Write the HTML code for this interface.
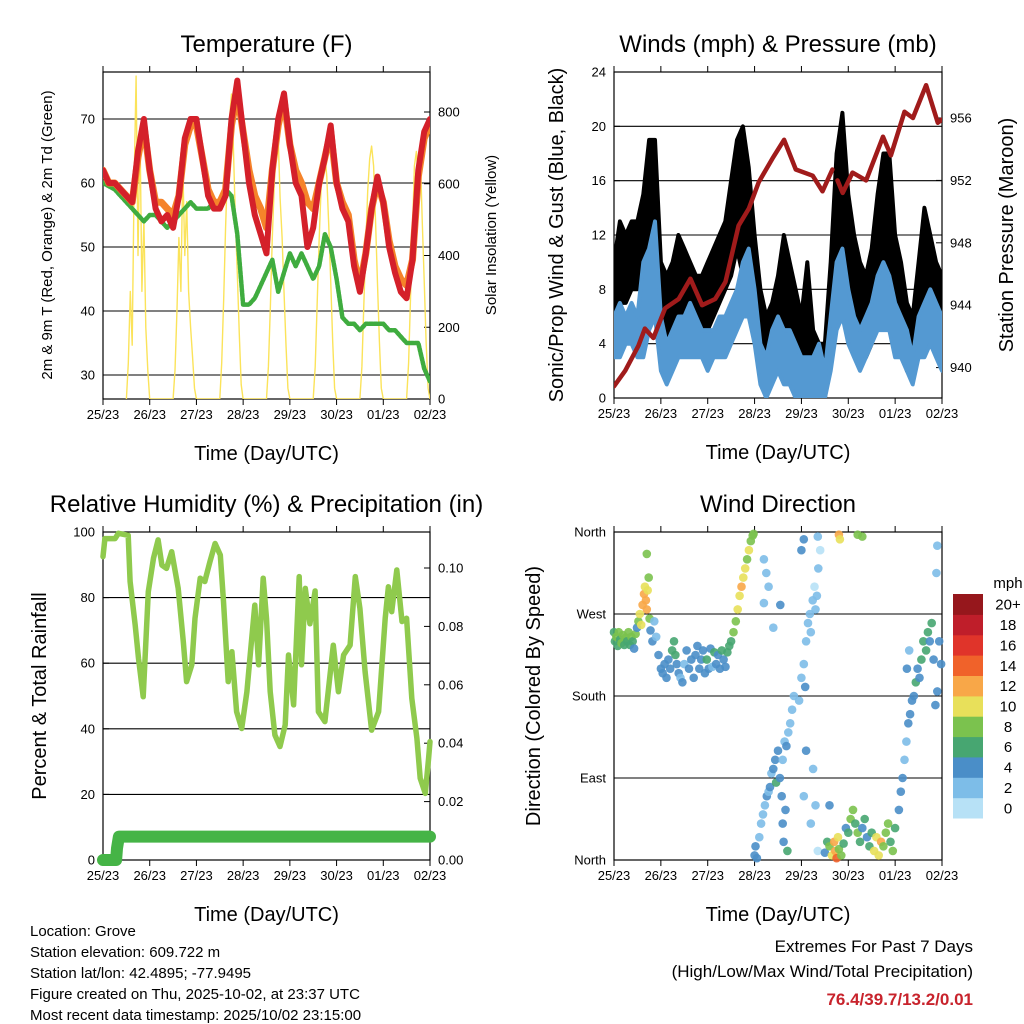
<!DOCTYPE html>
<html><head><meta charset="utf-8"><style>
html,body{margin:0;padding:0;background:#fff;}
svg{display:block;font-family:"Liberation Sans",sans-serif;}
</style></head><body>
<svg id="c" width="1024" height="1024" viewBox="0 0 1024 1024" xmlns="http://www.w3.org/2000/svg">
<rect width="1024" height="1024" fill="#fff"/>
<g id="p1"></g>
<g id="p2"></g>
<g id="p3"></g>
<g id="p4"></g>
<g id="cb"></g>
<g font-size="15" fill="#000">
<text x="30" y="936">Location: Grove</text>
<text x="30" y="957">Station elevation: 609.722 m</text>
<text x="30" y="978">Station lat/lon: 42.4895; -77.9495</text>
<text x="30" y="999">Figure created on Thu, 2025-10-02, at 23:37 UTC</text>
<text x="30" y="1020">Most recent data timestamp: 2025/10/02 23:15:00</text>
</g>
<g text-anchor="end">
<text x="973" y="952" font-size="17">Extremes For Past 7 Days</text>
<text x="973" y="977" font-size="17">(High/Low/Max Wind/Total Precipitation)</text>
<text x="973" y="1005" font-size="17" font-weight="bold" fill="#c8232c">76.4/39.7/13.2/0.01</text>
</g>
</svg>
<script>
const dayLabels=["25/23","26/23","27/23","28/23","29/23","30/23","01/23","02/23"];
const tRed=[62,60,60,59,58,57,65,70,62,56,54,55,53,58,67,70,70,64,58,56,56,58,70,76,68,60,55,52,49,62,70,74,66,60,58,50,53,60,64,69,60,56,54,47,43,49,56,61,57,50,46,43,42,48,62,68,70];
const tOrange=[62,60,60,59,58,57,64,69,62,57,57,56,55,58,66,69,69,64,59,57,57,59,69,74,68,62,58,56,53,62,69,73,66,62,60,57,56,60,64,68,60,57,55,48,44,49,56,60,57,51,47,45,44,48,61,67,69];
const tDew=[60,59.5,59,58,57,56,55,54,55,55,54,53,54,55,56,57,56,56,56,57,57,59,58,52,41,41,42,44,46,48,43,46,49,47,49,47,45,47,52,50,45,39,38,38,37,38,38,38,38,37,37,36,35,35,35,31,29];
const solarDays=[
[0,100,300,150,600,900,400,750,300,500,200,80,0],
[0,80,250,450,300,650,400,550,300,200,120,30,0],
[0,100,280,480,650,780,850,700,500,350,180,40,0],
[0,90,260,450,600,700,730,560,450,300,150,30,0],
[0,90,260,440,580,660,680,620,480,330,160,30,0],
[0,90,260,430,580,670,705,650,500,330,160,30,0],
[0,100,280,470,650,690,600,680,500,330,160,30,0]];
const windLo=[3,3,4,4,3,3,5,6,2,1,2,3,3,3,3,3,2,3,3,3,4,5,6,6,4,1,0,1,2,1,1,0,0,0,0,0,0,2,5,6,4,3,2,3,4,5,5,5,3,3,2,1,3,3,4,3,2];
const windHi=[6,7,6,7,6,10,11,13,6,4,5,6,6,7,6,5,5,5,6,6,7,8,10,11,8,4,3,5,6,5,5,4,3,3,3,4,2,6,10,11,8,6,5,6,7,9,10,9,7,6,5,3,6,7,8,7,6];
const gustLo=[4,7,7,8,8,9,11,10,3,3,4,5,6,5,4,5,5,6,7,8,9,11,9,7,5,2,1,2,3,4,3,2,1,2,1,0,0,3,8,10,7,5,4,3,4,7,9,9,6,4,2,2,4,6,5,4,3];
const gustHi=[10,13,12,13,13,15,19,19,10,9,10,12,11,10,9,9,10,11,12,13,16,19,20,17,12,8,6,7,9,12,10,8,6,10,5,4,4,10,18,21,15,12,10,9,11,15,18,18,12,10,7,6,10,14,12,10,9];
const presDays=[0,0.24,0.52,0.66,0.84,1.09,1.38,1.63,1.88,2.16,2.38,2.66,2.88,3.09,3.38,3.63,3.88,4.24,4.45,4.66];
const presVals=[938.8,939.8,941.4,942.5,941.9,943.8,944.4,945.7,944,944.4,945.5,949.1,950.2,951.9,953.4,954.6,952.7,952.3,951.3,952.7];
const pres2Days=[4.77,4.88,5.09,5.38,5.74,5.91,6.2,6.38,6.66,6.91,7];
const pres2Vals=[952,951.2,952.5,952,954.8,953.6,956.4,956,958.1,955.7,955.9];
const rhDays=[0,0.04,0.26,0.33,0.54,0.58,0.69,0.76,0.86,0.97,1.08,1.18,1.26,1.36,1.47,1.61,1.72,1.79,1.90,1.97,2.08,2.18,2.29,2.40,2.51,2.58,2.68,2.76,2.86,2.97,3.08,3.15,3.25,3.33,3.43,3.50,3.58,3.68,3.79,3.90,3.97,4.08,4.20,4.25,4.33,4.43,4.54,4.61,4.75,4.82,4.93,5.04,5.15,5.29,5.40,5.50,5.61,5.75,5.90,6.04,6.11,6.18,6.29,6.40,6.50,6.61,6.72,6.79,6.90,6.97,7];
const rhVals=[92.5,98,98,99.6,99,84.9,71.6,61.5,49.8,81.8,92,97.6,89.9,88.9,94,82.8,66.6,54.4,59.5,73.7,85.9,84.9,91,96.5,93,78.8,54.4,63.5,45.2,40.1,51.3,62.5,77.7,59.5,85.9,73.7,51.3,38.1,34.6,41.2,62.5,47.3,86.4,59.5,82.8,72,82,45.2,42.2,51.3,65.5,51.3,62.5,65.5,86.4,76.7,57.4,39.6,45.2,73.7,83.3,75.7,88.4,72.7,73.7,49.3,37.1,24.9,20.3,31,36.1];
const precipDays=[0,0.28,0.30,0.34,7];
const precipVals=[0,0,0.004,0.008,0.008];
const dirDays=[0,0.02,0.05,0.08,0.10,0.13,0.16,0.19,0.22,0.25,0.28,0.31,0.34,0.37,0.40,0.43,0.46,0.49,
0.52,0.55,0.58,0.61,0.64,0.66,0.68,0.70,0.72,0.74,0.76,0.70,0.78,0.82,
0.86,0.90,0.95,1.00,1.04,1.08,1.12,1.16,1.20,1.24,1.28,1.31,1.34,1.38,1.42,1.46,1.50,1.55,1.60,1.65,1.70,1.74,1.78,1.82,1.86,1.90,1.94,1.98,2.02,2.06,2.10,2.14,2.18,2.22,2.26,2.30,2.34,2.38,2.42,2.46,
2.50,2.55,2.60,2.64,2.68,2.72,2.76,2.80,2.84,2.88,2.92,2.96,2.98,
3.2,3.25,3.3,3.55,3.2,3.4,
3.0,3.02,3.05,3.1,3.14,3.18,3.22,3.26,3.3,3.33,3.36,3.4,3.44,3.46,3.5,3.54,3.58,3.6,3.64,3.68,3.72,3.76,3.8,3.84,3.6,3.62,3.66,3.7,
3.95,4.0,4.05,4.08,4.1,4.14,4.18,4.2,4.24,4.28,4.3,4.33,4.36,4.4,4.1,4.05,4.2,4.25,4.3,4.35,4.0,4.05,4.35,
4.5,4.55,4.6,4.65,4.7,4.72,4.75,4.78,4.8,4.85,4.9,4.8,4.82,4.95,4.6,
5.0,5.05,5.1,5.15,5.2,5.25,5.3,5.35,5.4,5.45,5.5,5.2,5.3,
5.55,5.6,5.65,5.7,5.75,5.8,5.85,5.9,5.95,6.0,
6.08,6.12,6.16,6.2,6.24,6.28,6.32,6.36,6.4,6.44,6.48,6.52,6.56,6.6,6.3,6.25,
6.66,6.7,6.74,6.78,6.82,6.86,6.9,6.94,6.98,6.9,6.88];
const dirDeg=[250,240,245,235,250,242,238,247,236,244,240,250,236,245,240,232,248,255,
262,270,258,280,292,300,285,275,296,310,265,336,252,240,
262,245,225,210,205,215,200,220,210,230,240,225,215,205,200,195,215,230,210,220,200,225,235,210,220,230,205,220,210,232,212,228,215,225,210,230,220,212,228,235,
240,250,262,275,290,300,310,320,330,340,350,356,358,
330,315,300,280,282,255,
5,15,2,25,40,50,60,70,75,80,95,100,110,85,120,90,70,110,130,125,140,150,165,180,40,20,55,10,
175,200,215,190,240,260,270,250,285,300,275,290,320,340,120,70,40,100,60,10,340,352,355,
8,20,15,5,20,10,2,25,12,5,18,357,352,35,60,
30,45,55,40,30,20,35,45,25,15,30,357,355,
10,25,5,20,15,30,40,20,10,35,
55,75,90,110,130,150,160,175,180,195,210,200,220,240,230,210,
230,250,240,260,220,170,185,240,215,345,315];
const dirSpd=[5,6,7,6,7,6,7,8,6,7,5,7,6,8,6,4,7,4,
8,9,10,11,12,10,12,11,9,8,7,7,4,3,
2,2,3,4,4,3,4,4,3,5,6,6,4,3,2,3,2,4,4,3,4,4,4,3,4,4,4,5,4,4,2,6,4,4,3,5,4,3,5,6,
6,7,8,9,10,11,9,10,8,9,8,7,7,
2,2,2,4,1,1,
4,3,4,2,1,2,2,3,2,4,2,4,4,5,4,4,3,2,2,4,2,2,2,2,4,4,4,6,
1,1,2,4,2,1,2,1,1,0,2,1,1,0,4,2,2,1,2,0,4,3,2,
4,5,8,10,11,12,13,10,8,7,6,12,10,4,4,
6,7,7,6,7,5,4,6,4,5,6,7,8,
9,10,9,11,8,7,8,6,7,6,
4,4,3,2,2,4,3,4,4,5,4,3,6,5,2,3,
6,5,4,5,4,4,3,4,4,2,1];
const cbLabels=["0","2","4","6","8","10","12","14","16","18","20+"];
const cbColors=["#b7e1f6","#7dbde8","#4a8ec8","#47a671","#7bc24e","#e8e05a","#f8a748","#f0622a","#e0342a","#bf1e2a","#96171c"];

const NS="http://www.w3.org/2000/svg";
function mk(parent,tag,attrs){const e=document.createElementNS(NS,tag);for(const k in attrs)e.setAttribute(k,attrs[k]);parent.appendChild(e);return e;}
function txt(parent,x,y,s,attrs){const e=mk(parent,'text',Object.assign({x:x,y:y},attrs||{}));e.textContent=s;return e;}

function panel(g,L,R,T,B,title,xTitle){
  const f=mk(g,'rect',{x:L,y:T,width:R-L,height:B-T,fill:'none',stroke:'#000','stroke-width':1.2});
  
  
  const tt=txt(g,(L+R)/2,T-20,title,{'font-size':24,'text-anchor':'middle'});
  
  
  const xt=txt(g,(L+R)/2,B+61,xTitle,{'font-size':20,'text-anchor':'middle'});
  
  
  const dx=(R-L)/7;
  dayLabels.forEach((s,i)=>{
    const x=L+i*dx;
    mk(g,'line',{x1:x,x2:x,y1:B,y2:B+6,stroke:'#000','stroke-width':1});
    mk(g,'line',{x1:x,x2:x,y1:T,y2:T-6,stroke:'#000','stroke-width':1});
    const t=txt(g,x,B+20,s,{'font-size':13,'text-anchor':'middle'});
    
    
  });
  return d=>L+d*dx;
}
function yaxis(g,L,R,T,B,fy,ticks,fmt,side,grid){
  ticks.forEach(v=>{
    const y=fy(v);
    if(grid) mk(g,'line',{x1:L,x2:R,y1:y,y2:y,stroke:'#000','stroke-width':1.1});
    if(side==='l'){mk(g,'line',{x1:L,x2:L+6,y1:y,y2:y,stroke:'#000'});
      const t=txt(g,L-8,y+4.5,fmt(v),{'font-size':13,'text-anchor':'end'});
      
      
    } else {mk(g,'line',{x1:R-6,x2:R,y1:y,y2:y,stroke:'#000'});
      const t=txt(g,R+8,y+4.5,fmt(v),{'font-size':13,'text-anchor':'start'});
      
      
    }
  });
}
function vlabel(g,x,y,s,size,name){const t=txt(g,x,y,s,{'font-size':size,'text-anchor':'middle',transform:'rotate(-90 '+x+' '+y+')'});
  
  }
function poly(g,pts,attrs,name){const p=mk(g,'polyline',Object.assign({points:pts.map(p=>p[0].toFixed(1)+','+p[1].toFixed(1)).join(' '),fill:'none','stroke-linejoin':'round','stroke-linecap':'round'},attrs));
  
  return p;}

(function(){
  const g=document.getElementById('p1');const L=103,R=430,T=72,B=399;
  const fx=panel(g,L,R,T,B,'Temperature (F)','Time (Day/UTC)');
  const fy=v=>183-(v-60)*6.4;
  const fs=v=>399-v*0.35875;
  yaxis(g,L,R,T,B,fy,[30,40,50,60,70],v=>v,'l',true);
  yaxis(g,L,R,T,B,fs,[0,200,400,600,800],v=>v,'r',false);
  const clip=mk(g,'clipPath',{id:'cl1'});mk(clip,'rect',{x:L,y:T,width:R-L,height:B-T});
  const gg=mk(g,'g',{'clip-path':'url(#cl1)'});
  const sp=[];solarDays.forEach((arr,d)=>arr.forEach((v,h)=>sp.push([fx(d+(12+h)/24),fs(v)])));
  poly(gg,sp,{stroke:'#fbe35a','stroke-width':1.4},'solar-line');
  poly(gg,tDew.map((v,i)=>[fx(i/8),fy(v)]),{stroke:'#3fac3f','stroke-width':4.5,'stroke-dasharray':'3 1.5'},'dewpoint-line');
  poly(gg,tOrange.map((v,i)=>[fx(i/8),fy(v)]),{stroke:'#f5832a','stroke-width':7},'temp-9m-line');
  poly(gg,tRed.map((v,i)=>[fx(i/8),fy(v)]),{stroke:'#d4202a','stroke-width':6},'temp-2m-line');
  vlabel(g,52,235,'2m & 9m T (Red, Orange) & 2m Td (Green)',15,'y-axis-title');
  vlabel(g,496,235,'Solar Insolation (Yellow)',15,'y2-axis-title');
})();
(function(){
  const g=document.getElementById('p2');const L=614,R=942,T=72,B=398;
  const fx=panel(g,L,R,T,B,'Winds (mph) & Pressure (mb)','Time (Day/UTC)');
  const fy=v=>398-v*(326/24);
  const fp=v=>118+(956-v)*15.6;
  yaxis(g,L,R,T,B,fy,[0,4,8,12,16,20,24],v=>v,'l',true);
  yaxis(g,L,R,T,B,fp,[940,944,948,952,956],v=>v,'r',false);
  const clip=mk(g,'clipPath',{id:'cl2'});mk(clip,'rect',{x:L,y:T,width:R-L,height:B-T});
  const gg=mk(g,'g',{'clip-path':'url(#cl2)'});
  function band(lo,hi,col,name){
    const pts=hi.map((v,i)=>[fx(i/8),fy(v)]).concat(lo.map((v,i)=>[fx(i/8),fy(v)]).reverse());
    const p=mk(gg,'polygon',{points:pts.map(p=>p[0].toFixed(1)+','+p[1].toFixed(1)).join(' '),fill:col,stroke:col,'stroke-width':4,'stroke-linejoin':'round'});
    
    
  }
  band(gustLo,gustHi,'#000','gust-band');
  band(windLo,windHi,'#5499d2','wind-band');
  poly(gg,presDays.map((d,i)=>[fx(d),fp(presVals[i])]),{stroke:'#a01b1b','stroke-width':4.5},'pressure-line');
  poly(gg,pres2Days.map((d,i)=>[fx(d),fp(pres2Vals[i])]),{stroke:'#a01b1b','stroke-width':4.5},'pressure-line-2');
  vlabel(g,563,235,'Sonic/Prop Wind & Gust (Blue, Black)',20,'y-axis-title');
  vlabel(g,1013,235,'Station Pressure (Maroon)',20,'y2-axis-title');
})();
(function(){
  const g=document.getElementById('p3');const L=103,R=430,T=532,B=860;
  const fx=panel(g,L,R,T,B,'Relative Humidity (%) & Precipitation (in)','Time (Day/UTC)');
  const fy=v=>860-v*3.28;
  const fp=v=>860-v*2920;
  yaxis(g,L,R,T,B,fy,[0,20,40,60,80,100],v=>v,'l',true);
  yaxis(g,L,R,T,B,fp,[0,0.02,0.04,0.06,0.08,0.1],v=>v.toFixed(2),'r',false);
  poly(g,rhDays.map((d,i)=>[fx(d),fy(rhVals[i])]),{stroke:'#8fca4d','stroke-width':5.5},'rh-line');
  poly(g,precipDays.map((d,i)=>[fx(d),fp(precipVals[i])]),{stroke:'#45b446','stroke-width':12},'precip-line');
  vlabel(g,46,696,'Percent & Total Rainfall',20,'y-axis-title');
})();
(function(){
  const g=document.getElementById('p4');const L=614,R=942,T=532,B=860;
  const fx=panel(g,L,R,T,B,'Wind Direction','Time (Day/UTC)');
  const fy=v=>860-v*(328/360);
  const names={0:'North',90:'East',180:'South',270:'West',360:'North'};
  yaxis(g,L,R,T,B,fy,[0,90,180,270,360],v=>names[v],'l',true);
  dirDays.forEach((d,i)=>{
    const s=dirSpd[i];const bin=Math.min(10,Math.max(0,Math.round(s/2)));
    const c=mk(g,'circle',{cx:fx(d).toFixed(1),cy:fy(dirDeg[i]).toFixed(1),r:4.3,fill:cbColors[bin],opacity:0.9});
    
    
  });
  vlabel(g,540,696,'Direction (Colored By Speed)',20,'y-axis-title');
})();
(function(){
  const g=document.getElementById('cb');const x=953,w=30,top=594,h=224/11;
  const t=txt(g,1008,588,'mph',{'font-size':15,'text-anchor':'middle'});
  
  
  cbLabels.forEach((lab,i)=>{
    const y=top+(10-i)*h;
    const r=mk(g,'rect',{x:x,y:y.toFixed(1),width:w,height:(h+0.5).toFixed(1),fill:cbColors[i]});
    
    
    const tl=txt(g,1008,y+h/2+5.5,lab,{'font-size':15,'text-anchor':'middle'});
    
    
  });
})();
</script>
</body></html>
